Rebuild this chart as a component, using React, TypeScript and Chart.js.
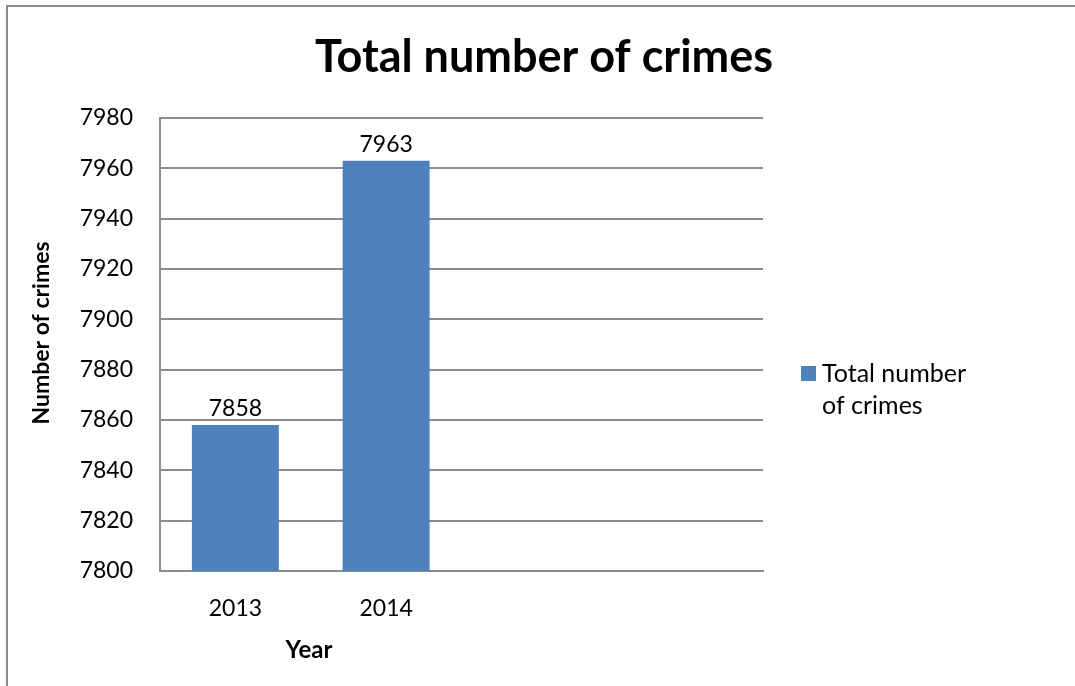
import React, { useEffect, useRef } from "react";
import { Chart, registerables } from "chart.js";

Chart.register(...registerables);

// ---- Data ----
const categories: string[] = ["2013", "2014", "", ""];
const seriesName = "Total number of crimes";
const crimeCounts: (number | null)[] = [7858, 7963, null, null];
const yMin = 7800;
const yMax = 7980;
const yStep = 20;
const chartTitle = "Total number of crimes";
const xAxisTitle = "Year";
const yAxisTitle = "Number of crimes";
const legendLines: string[] = ["Total number", "of crimes"];

// ---- Styles ----
const FONT = "Lato, 'Open Sans', sans-serif";
const GRID = "#8c8c8c";
const BAR = "#4F81BD";
const W = 1075;
const H = 686;

const decorations = {
  id: "decorations",
  afterDatasetsDraw(chart: any) {
    const ctx = chart.ctx as CanvasRenderingContext2D;
    const meta = chart.getDatasetMeta(0);
    const data = chart.data.datasets[0].data as (number | null)[];
    ctx.save();
    ctx.fillStyle = "#000";
    ctx.font = `23px ${FONT}`;
    ctx.textAlign = "center";
    ctx.textBaseline = "alphabetic";
    meta.data.forEach((bar: any, i: number) => {
      const v = data[i];
      if (v === null || v === undefined) return;
      ctx.fillText(String(v), bar.x, bar.y - 9);
    });
    ctx.restore();
  },
  afterDraw(chart: any) {
    const ctx = chart.ctx as CanvasRenderingContext2D;
    ctx.save();
    // outer frame
    ctx.strokeStyle = GRID;
    ctx.lineWidth = 2;
    ctx.beginPath();
    ctx.moveTo(7, H);
    ctx.lineTo(7, 6);
    ctx.lineTo(W, 6);
    ctx.stroke();

    ctx.fillStyle = "#000";
    // chart title
    ctx.font = `bold 45px ${FONT}`;
    ctx.textAlign = "center";
    ctx.textBaseline = "alphabetic";
    ctx.fillText(chartTitle, 544, 72);

    // x axis title
    ctx.font = `bold 24px ${FONT}`;
    ctx.fillText(xAxisTitle, 309, 658);

    // y axis title
    ctx.save();
    ctx.translate(42, 333);
    ctx.rotate(-Math.PI / 2);
    ctx.font = `bold 23px ${FONT}`;
    ctx.textBaseline = "middle";
    ctx.fillText(yAxisTitle, 0, 0);
    ctx.restore();

    // legend
    ctx.fillStyle = BAR;
    ctx.fillRect(801, 366, 15, 15);
    ctx.fillStyle = "#000";
    ctx.font = `25px ${FONT}`;
    ctx.textAlign = "left";
    legendLines.forEach((line, i) => {
      ctx.fillText(line, 822, 382 + i * 32);
    });
    ctx.restore();
  },
};

export default function App() {
  const ref = useRef<HTMLCanvasElement | null>(null);

  useEffect(() => {
    if (!ref.current) return;
    const chart = new Chart(ref.current, {
      type: "bar",
      data: {
        labels: categories,
        datasets: [
          {
            label: seriesName,
            data: crimeCounts as any,
            backgroundColor: BAR,
            borderWidth: 0,
            barPercentage: 0.577,
            categoryPercentage: 1,
          },
        ],
      },
      options: {
        responsive: false,
        animation: false,
        devicePixelRatio: 1,
        layout: { padding: { top: 118, right: 312, left: 0, bottom: 0 } },
        plugins: {
          legend: { display: false },
          title: { display: false },
          tooltip: { enabled: false },
        },
        scales: {
          x: {
            offset: true,
            grid: { display: false },
            border: { display: true, color: GRID, width: 2 },
            ticks: {
              color: "#000",
              font: { family: FONT, size: 23 },
              padding: 16,
              maxRotation: 0,
              autoSkip: false,
            },
            afterFit: (scale: any) => {
              scale.height = 115;
            },
          },
          y: {
            min: yMin,
            max: yMax,
            grid: { color: GRID, lineWidth: 2, drawTicks: false },
            border: { display: true, color: GRID, width: 2 },
            ticks: {
              stepSize: yStep,
              color: "#000",
              font: { family: FONT, size: 23 },
              padding: 27,
              callback: (v: any) => String(v),
            },
            afterFit: (scale: any) => {
              scale.width = 160;
            },
          },
        },
      },
      plugins: [decorations],
    });
    return () => chart.destroy();
  }, []);

  return (
    <div style={{ position: "fixed", left: 0, top: 0, width: W, height: H, background: "#fff" }}>
      <canvas ref={ref} width={W} height={H} style={{ display: "block" }} />
    </div>
  );
}
